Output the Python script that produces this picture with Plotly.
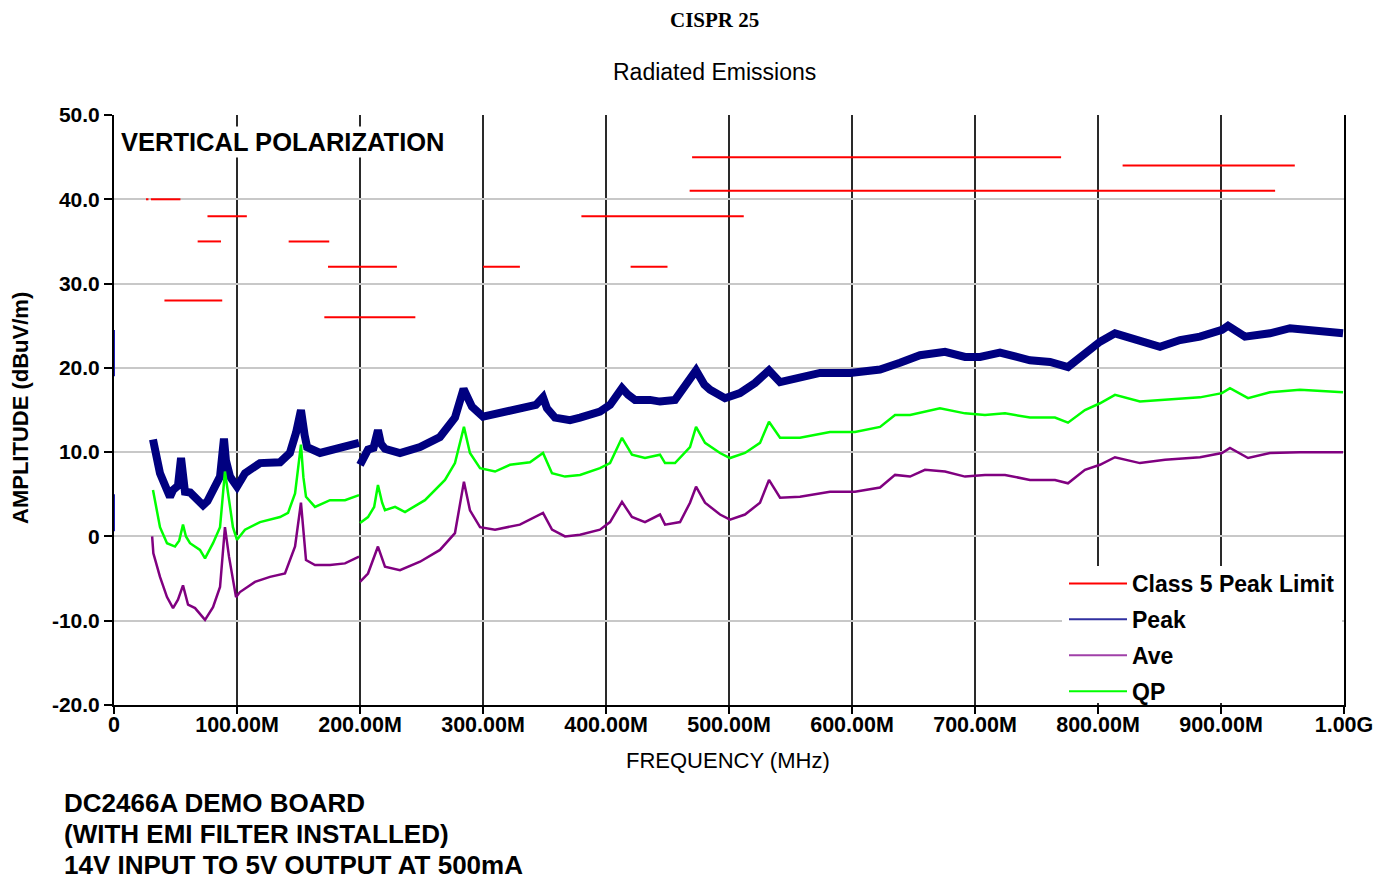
import plotly.graph_objects as go

# ---------------- data ----------------
# Class 5 peak limit segments (MHz start, MHz stop, dBuV/m)
limit_start = [26, 30, 41, 68, 76, 142, 171, 174, 300, 380, 420, 468, 470, 820]
limit_stop = [28, 54, 88, 87, 108, 175, 245, 230, 330, 512, 450, 944, 770, 960]
limit_level = [40, 40, 28, 35, 38, 35, 26, 32, 32, 38, 32, 41, 45, 44]

# Peak detector readings at the very start of the sweep (drawn on the amplitude axis)
peak0_f = [0, 0, None, 0, 0]
peak0_v = [19.0, 24.5, None, 0.6, 5.0]

# Peak detector, band 1 (30-200 MHz)
peak1_f = [31.7, 34.7, 37.4, 43.1, 45.5, 48, 52, 54.5, 56.5, 57.7, 62, 66, 70, 72.4, 76, 78, 82, 86.2,
           89.4, 91, 94.3, 100, 106.5, 118.7, 135, 143, 148, 152, 155, 157, 167.5, 183.7, 199.2]
peak1_v = [11.5, 9.4, 7.5, 5.5, 4.7, 5.5, 6.0, 9.3, 6.5, 5.3, 5.2, 4.7, 4.3, 3.7, 4.2, 4.7, 5.8, 7.1,
           11.6, 9.0, 7.1, 5.9, 7.5, 8.7, 8.8, 9.9, 12.3, 15.0, 12.0, 10.6, 9.9, 10.5, 11.1]
# Peak detector, band 2 (200-1000 MHz)
peak2_f = [200, 206.5, 211, 214.6, 217, 220.3, 232.5, 248.8, 265, 277.2, 284.2, 286, 291, 300, 313.8,
           330, 343, 348.8, 352, 358.5, 370.7, 378.9, 395.1, 403.3, 413, 418, 423.6, 435.8, 443.9,
           456.1, 468.3, 473.2, 480, 484.6, 496.7, 508.9, 521.1, 532.5, 541.5, 557.7, 574, 598.4,
           622.8, 639, 655.3, 675.6, 691.9, 704.1, 720.3, 744.7, 761, 775.6, 789.4, 801.6, 813.8,
           830, 850.4, 866.7, 882.9, 900.8, 905.7, 919.5, 939.8, 956.1, 980.5, 999.2]
peak2_v = [8.5, 10.3, 10.5, 12.6, 11.0, 10.4, 9.9, 10.6, 11.8, 14.1, 17.5, 16.8, 15.4, 14.2, 14.6,
           15.2, 15.6, 16.5, 15.2, 14.1, 13.8, 14.1, 14.8, 15.6, 17.6, 16.8, 16.2, 16.2, 16.0,
           16.2, 18.6, 19.7, 18.0, 17.4, 16.4, 17.0, 18.2, 19.7, 18.3, 18.8, 19.4, 19.4,
           19.8, 20.6, 21.5, 21.9, 21.3, 21.3, 21.8, 20.9, 20.7, 20.1, 21.8, 23.1, 24.1,
           23.3, 22.5, 23.3, 23.7, 24.5, 25.0, 23.7, 24.1, 24.7, 24.3, 24.1]

# Quasi-peak detector
qp1_f = [31.7, 34.7, 37.4, 43.1, 49.6, 53, 56.1, 58.5, 61.8, 69.9, 74, 80.5, 86.2, 90.2, 93.5, 96.7,
         100, 106.5, 118.7, 135, 141.5, 147.2, 152, 154, 156.1, 163.4, 175.6, 187.8, 199.2]
qp1_v = [5.5, 3.0, 1.1, -0.8, -1.2, -0.5, 1.4, 0.0, -0.8, -1.6, -2.6, -0.8, 1.1, 7.7, 4.3, 1.1,
         -0.4, 0.8, 1.7, 2.3, 2.8, 5.1, 10.9, 7.0, 4.7, 3.5, 4.3, 4.3, 4.9]
qp2_f = [200, 206.5, 211.5, 214.6, 218, 220.3, 228.5, 236.6, 252.8, 269.1, 277.2, 284.5, 289.4, 297.6,
         309.8, 322, 338.2, 348.8, 356.1, 366.7, 378.9, 395.1, 403.3, 413, 421.1, 431.7, 443.9, 448,
         456.1, 468.3, 473.2, 480.5, 492.7, 500.8, 513, 525.2, 532.5, 541.5, 557.7, 582.1, 602.4,
         622.8, 635, 647.2, 671.5, 691.9, 708.1, 724.4, 744.7, 765, 775.6, 789.4, 801.6, 813.8,
         834.1, 854.5, 882.9, 900.8, 907.3, 922, 939.8, 964.2, 999.2]
qp2_v = [1.6, 2.3, 3.5, 6.1, 4.0, 3.1, 3.5, 2.9, 4.3, 6.7, 8.7, 13.0, 9.9, 8.1,
         7.7, 8.5, 8.8, 9.9, 7.5, 7.1, 7.3, 8.1, 8.7, 11.7, 9.7, 9.3, 9.7, 8.7,
         8.7, 10.6, 13.0, 11.1, 9.9, 9.3, 9.9, 11.1, 13.6, 11.7, 11.7, 12.4, 12.4,
         13.0, 14.4, 14.4, 15.2, 14.6, 14.4, 14.6, 14.1, 14.1, 13.5, 15.0, 15.8, 16.8,
         16.0, 16.2, 16.5, 17.0, 17.6, 16.4, 17.1, 17.4, 17.1]

# Average detector
ave1_f = [31, 32, 37.4, 43.1, 48, 52, 56.1, 60.2, 65.9, 74, 80.5, 86.2, 90.2, 93.5, 99.2, 102.4,
          114.6, 126.8, 139, 147.2, 152, 156.1, 163.4, 175.6, 187.8, 199.2]
ave1_v = [0.0, -2.0, -4.8, -7.2, -8.5, -7.5, -5.8, -8.1, -8.5, -9.9, -8.4, -6.0, 1.1, -2.4, -7.2, -6.6,
          -5.4, -4.8, -4.4, -1.2, 4.0, -2.8, -3.4, -3.4, -3.2, -2.4]
ave2_f = [200, 206.5, 214.6, 220.3, 232.5, 248.8, 265, 277.2, 284.5, 289.4, 297.6, 309.8, 330, 348.8,
          356.1, 366.7, 378.9, 395.1, 403.3, 413, 421.1, 431.7, 443.9, 448, 460.2, 468.3, 473.2,
          480.5, 492.7, 500.8, 513, 525.2, 532.5, 541.5, 557.7, 582.1, 602.4, 622.8, 635, 647.2,
          659.3, 675.6, 691.9, 708.1, 724.4, 744.7, 765, 775.6, 789.4, 801.6, 813.8, 834.1, 854.5,
          882.9, 900.8, 907.3, 922, 939.8, 964.2, 999.2]
ave2_v = [-5.4, -4.4, -1.2, -3.6, -4.0, -3.0, -1.6, 0.4, 6.5, 3.1, 1.1, 0.8, 1.4, 2.8,
          0.8, 0.0, 0.2, 0.8, 1.7, 4.1, 2.3, 1.7, 2.6, 1.4, 1.7, 4.0, 5.9,
          4.0, 2.6, 2.0, 2.6, 4.0, 6.7, 4.6, 4.7, 5.3, 5.3, 5.8, 7.3, 7.1,
          7.9, 7.7, 7.1, 7.3, 7.3, 6.7, 6.7, 6.3, 7.9, 8.5, 9.4, 8.7, 9.1,
          9.4, 9.9, 10.5, 9.3, 9.9, 10.0, 10.0]

x_ticks = [0, 100, 200, 300, 400, 500, 600, 700, 800, 900, 1000]
x_labels = ["0", "100.00M", "200.00M", "300.00M", "400.00M", "500.00M",
            "600.00M", "700.00M", "800.00M", "900.00M", "1.00G"]
y_ticks = [-20, -10, 0, 10, 20, 30, 40, 50]
y_labels = ["-20.0", "-10.0", "0", "10.0", "20.0", "30.0", "40.0", "50.0"]

# ---------------- build ----------------
lim_x, lim_y = [], []
for s, e, v in zip(limit_start, limit_stop, limit_level):
    lim_x += [s, e, None]
    lim_y += [v, v, None]

def join(f1, v1, f2, v2):
    return f1 + [None] + f2, v1 + [None] + v2

RED = "#ff0000"
NAVY = "#000080"
PURPLE = "#800080"
GREEN = "#00ff00"

fig = go.Figure()
px, py = join(peak1_f, peak1_v, peak2_f, peak2_v)
ax, ay = join(ave1_f, ave1_v, ave2_f, ave2_v)
qx, qy = join(qp1_f, qp1_v, qp2_f, qp2_v)

fig.add_trace(go.Scatter(x=px, y=py, mode="lines", line=dict(color=NAVY, width=8),
                         showlegend=False, connectgaps=False))
fig.add_trace(go.Scatter(x=peak0_f, y=peak0_v, mode="lines", line=dict(color="#2020c0", width=2),
                         showlegend=False, connectgaps=False, cliponaxis=False))
fig.add_trace(go.Scatter(x=qx, y=qy, mode="lines", line=dict(color=GREEN, width=2.5),
                         showlegend=False, connectgaps=False))
fig.add_trace(go.Scatter(x=ax, y=ay, mode="lines", line=dict(color=PURPLE, width=2.5),
                         showlegend=False, connectgaps=False))
fig.add_trace(go.Scatter(x=lim_x, y=lim_y, mode="lines", line=dict(color=RED, width=2),
                         showlegend=False, connectgaps=False))

# legend entries (thin sample lines like the original)
for name, col in [("Class 5 Peak Limit", RED), ("Peak", "#3030a0"), ("Ave", "#a040a8"), ("QP", GREEN)]:
    fig.add_trace(go.Scatter(x=[None], y=[None], mode="lines", name=name,
                             line=dict(color=col, width=2), legendgroup=name))

FONT = "Liberation Sans, Arial, sans-serif"

# the page body adds an 8px offset; positions below are given in page pixels
def px2x(p):
    return (p - 114) / 1230.0

def py2y(p):
    return (705 - p) / 590.0

annotations = [
    dict(text="<b>CISPR 25</b>", x=px2x(714), y=py2y(20), xref="paper", yref="paper",
         xanchor="center", yanchor="middle", showarrow=False,
         font=dict(family="Liberation Serif, Times New Roman, serif", size=21, color="black")),
    dict(text="Radiated Emissions", x=px2x(714), y=py2y(72), xref="paper", yref="paper",
         xanchor="center", yanchor="middle", showarrow=False,
         font=dict(family=FONT, size=23, color="black")),
    dict(text="<b>VERTICAL POLARIZATION</b>", x=px2x(119), y=py2y(142), xref="paper", yref="paper",
         xanchor="left", yanchor="middle", showarrow=False, bgcolor="white",
         font=dict(family=FONT, size=25.5, color="black")),
    dict(text="<b>AMPLITUDE (dBuV/m)</b>", x=px2x(20), y=py2y(408), xref="paper", yref="paper",
         xanchor="center", yanchor="middle", textangle=-90, showarrow=False,
         font=dict(family=FONT, size=22, color="black")),
    dict(text="FREQUENCY (MHz)", x=px2x(728), y=py2y(760), xref="paper", yref="paper",
         xanchor="center", yanchor="middle", showarrow=False,
         font=dict(family=FONT, size=22, color="black")),
]
for i, line in enumerate(["DC2466A DEMO BOARD", "(WITH EMI FILTER INSTALLED)", "14V INPUT TO 5V OUTPUT AT 500mA"]):
    annotations.append(dict(text="<b>" + line + "</b>", x=px2x(62), y=py2y(803 + 31 * i),
                            xref="paper", yref="paper", xanchor="left", yanchor="middle",
                            showarrow=False, font=dict(family=FONT, size=26, color="black")))

shapes = [
    # white backing of the legend box (hides grid lines, as in the original)
    dict(type="rect", xref="paper", yref="paper", x0=px2x(1062), x1=px2x(1342), y0=py2y(566), y1=py2y(703),
         fillcolor="white", line=dict(width=0), layer="above"),
]

fig.update_layout(
    width=1380, height=872,
    margin=dict(l=106, r=44, t=107, b=175),
    paper_bgcolor="white", plot_bgcolor="white",
    font=dict(family=FONT, color="black"),
    annotations=annotations,
    shapes=shapes,
    legend=dict(x=px2x(1064), y=py2y(562), xanchor="left", yanchor="top",
                bgcolor="rgba(0,0,0,0)", borderwidth=0, tracegroupgap=3, itemwidth=58,
                font=dict(family=FONT, size=23, color="black", weight="bold")),
    xaxis=dict(range=[0, 1000], tickvals=x_ticks, ticktext=x_labels,
               showgrid=True, gridcolor="#2a2a2a", gridwidth=2,
               showline=True, linecolor="black", linewidth=2, mirror=False,
               ticks="outside", ticklen=7, tickwidth=2, tickcolor="black",
               ticklabelstandoff=-8,
               tickfont=dict(family=FONT, size=21.5, color="black", weight="bold"),
               zeroline=False),
    yaxis=dict(range=[-20, 50], tickvals=y_ticks, ticktext=y_labels,
               showgrid=True, gridcolor="#c8c8c8", gridwidth=2,
               showline=True, linecolor="black", linewidth=2, mirror=True,
               ticks="outside", ticklen=8, tickwidth=2, tickcolor="black",
               tickfont=dict(family=FONT, size=21, color="black", weight="bold"),
               layer="below traces",
               zeroline=False),
)

fig.write_html("out.html")
